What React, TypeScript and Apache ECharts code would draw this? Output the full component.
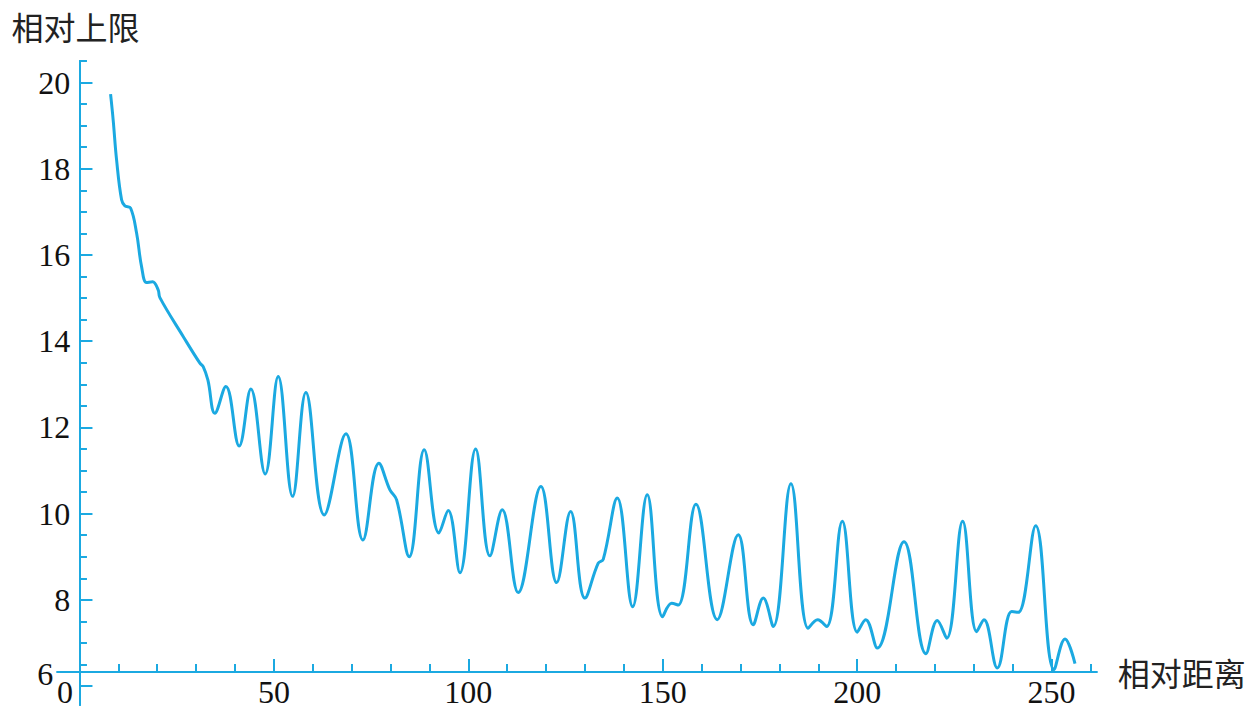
import React, { useEffect, useRef } from "react";
import * as echarts from "echarts";

const xs = [8.0, 8.67, 9.54, 10.83, 11.68, 13.14, 14.69, 15.97, 17.26, 18.8, 20.24, 20.68, 26.67, 30.97, 31.82, 33.02, 34.82, 37.65, 41.07, 44.08, 47.76, 51.11, 54.81, 58.23, 62.94, 68.52, 72.89, 77.01, 79.84, 81.56, 84.8, 88.66, 92.44, 94.83, 97.84, 101.88, 105.56, 108.72, 112.83, 118.67, 122.71, 126.31, 129.99, 133.41, 134.7, 138.3, 142.26, 146.01, 149.97, 152.29, 153.99, 158.54, 164.02, 169.42, 173.28, 175.85, 178.42, 182.97, 187.42, 189.84, 192.15, 196.17, 200.03, 202.19, 205.17, 212.04, 217.7, 220.6, 223.02, 227.13, 230.73, 232.61, 236.04, 239.74, 241.44, 245.91, 250.62, 253.45, 256.02];
const ys = [19.73, 19.13, 18.21, 17.28, 17.14, 17.09, 16.51, 15.73, 15.36, 15.38, 15.19, 15.01, 14.11, 13.49, 13.41, 13.1, 12.33, 12.95, 11.57, 12.89, 10.92, 13.18, 10.4, 12.81, 9.97, 11.85, 9.39, 11.17, 10.55, 10.32, 9.0, 11.48, 9.55, 10.07, 8.63, 11.5, 9.02, 10.09, 8.17, 10.63, 8.4, 10.05, 8.04, 8.85, 8.94, 10.36, 7.84, 10.44, 7.61, 7.92, 7.88, 10.22, 7.54, 9.51, 7.42, 8.04, 7.38, 10.69, 7.34, 7.54, 7.38, 9.82, 7.25, 7.54, 6.88, 9.35, 6.75, 7.52, 7.11, 9.82, 7.26, 7.54, 6.42, 7.73, 7.71, 9.72, 6.38, 7.09, 6.52];

const xMajorTicks = [0, 50, 100, 150, 200, 250];
const xMinorTicks = [10, 20, 30, 40, 60, 70, 80, 90, 110, 120, 130, 140, 160, 170, 180, 190, 210, 220, 230, 240, 260];
const yMajorTicks = [6, 8, 10, 12, 14, 16, 18, 20];
const yMinorTicks = [5.5, 6.5, 7, 7.5, 8.5, 9, 9.5, 10.5, 11, 11.5, 12.5, 13, 13.5, 14.5, 15, 15.5, 16.5, 17, 17.5, 18.5, 19, 19.5, 20.5];

const xName = "相对距离";
const yName = "相对上限";

const BLUE = "#1BA9E1";
const SERIF = "'Liberation Serif', 'DejaVu Serif', serif";
const CJK = "'Noto Sans CJK SC', sans-serif";

export default function App() {
  const ref = useRef<HTMLDivElement>(null);
  useEffect(() => {
    if (!ref.current) return;
    const chart = echarts.init(ref.current, null, { renderer: "svg" });
    const data = xs.map((x, i) => [x, ys[i]]);
    const xMin = -5.7;
    const xMax = 261.6;
    const yMin = 5.56;
    const yMax = 20.5;
    const commonX = {
      type: "value",
      min: xMin,
      max: xMax,
      position: "bottom",
      offset: -33,
      splitLine: { show: false },
      axisLine: { show: true, onZero: false, lineStyle: { color: BLUE, width: 2 } },
    };
    const commonY = {
      type: "value",
      min: yMin,
      max: yMax,
      position: "left",
      splitLine: { show: false },
      axisLine: { show: true, onZero: true, lineStyle: { color: BLUE, width: 2 } },
    };
    chart.setOption({
      animation: false,
      backgroundColor: "#ffffff",
      grid: { left: 57.3, right: 156.3, top: 61, bottom: 12, containLabel: false },
      xAxis: [
        {
          ...commonX,
          name: xName,
          nameLocation: "end",
          nameGap: 21,
          nameTextStyle: { fontFamily: CJK, fontSize: 32, color: "#222" },
          axisTick: { show: true, inside: true, length: 13, customValues: xMajorTicks, lineStyle: { color: BLUE, width: 2 } },
          axisLabel: {
            show: true,
            customValues: xMajorTicks,
            margin: 4,
            fontFamily: SERIF,
            fontSize: 32,
            color: "#111",
            formatter: (v: number) => (v === 0 ? "{z|0}" : String(v)),
            rich: { z: { fontFamily: SERIF, fontSize: 32, color: "#111", padding: [0, 29, 0, 0] } },
          },
        },
        {
          ...commonX,
          axisTick: { show: true, inside: true, length: 8, customValues: xMinorTicks, lineStyle: { color: BLUE, width: 2 } },
          axisLabel: { show: false },
        },
      ],
      yAxis: [
        {
          ...commonY,
          name: yName,
          nameLocation: "end",
          nameGap: 19,
          nameTextStyle: { fontFamily: CJK, fontSize: 32, color: "#222", align: "center", padding: [0, 8, 0, 0] },
          axisTick: { show: true, inside: true, length: 13, customValues: yMajorTicks, lineStyle: { color: BLUE, width: 2 } },
          axisLabel: {
            show: true,
            customValues: yMajorTicks,
            margin: -13,
            fontFamily: SERIF,
            fontSize: 32,
            color: "#111",
            formatter: (v: number) => (v === 6 ? "{s|6}" : String(v)),
            rich: { s: { fontFamily: SERIF, fontSize: 32, color: "#111", padding: [0, 17, 24, 0] } },
          },
        },
        {
          ...commonY,
          axisTick: { show: true, inside: true, length: 7.5, customValues: yMinorTicks, lineStyle: { color: BLUE, width: 2 } },
          axisLabel: { show: false },
        },
      ],
      series: [
        {
          type: "line",
          xAxisIndex: 0,
          yAxisIndex: 0,
          data,
          showSymbol: false,
          smooth: 0.4,
          lineStyle: { color: BLUE, width: 3 },
        },
      ],
    });
    return () => chart.dispose();
  }, []);
  return <div ref={ref} style={{ position: "fixed", left: 0, top: 0, width: 1253, height: 717 }} />;
}
